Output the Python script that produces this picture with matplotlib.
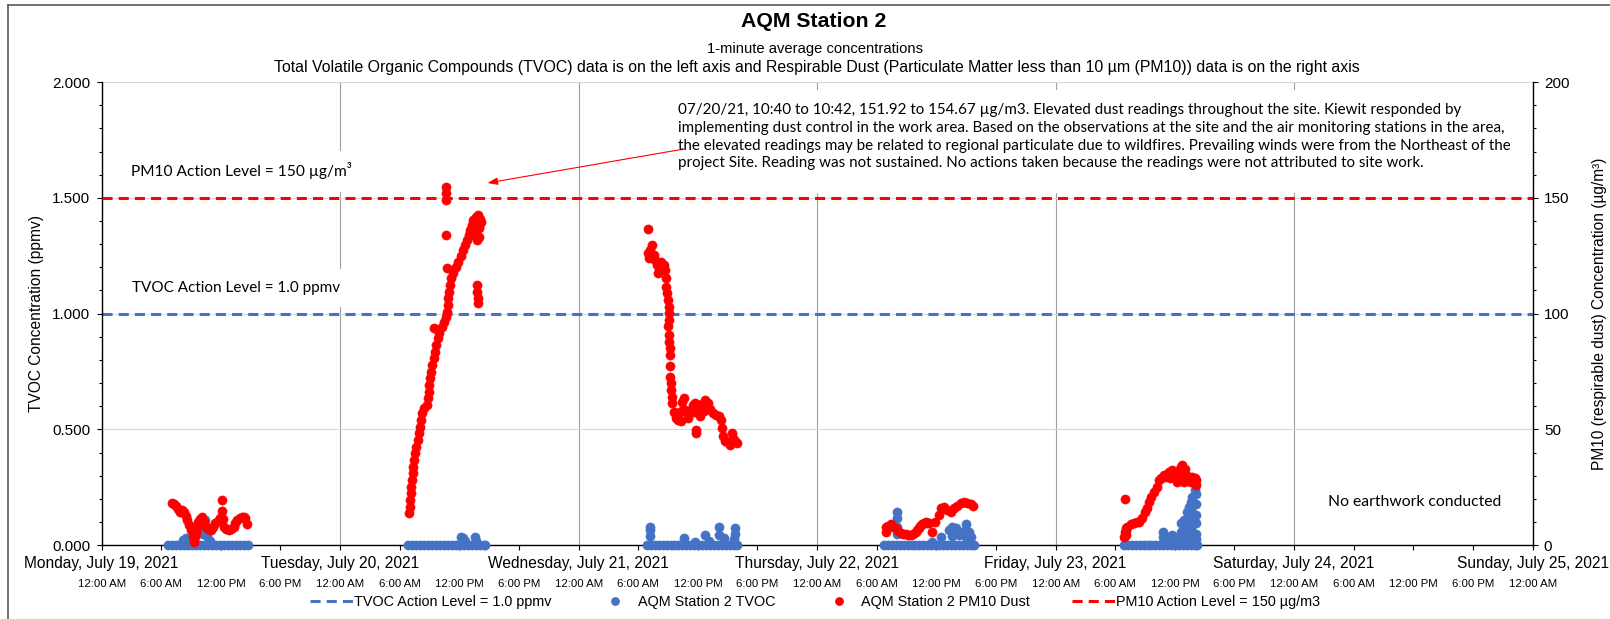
import numpy as np
import matplotlib
matplotlib.use("Agg")
import matplotlib.pyplot as plt
from matplotlib.lines import Line2D
from matplotlib.patches import Rectangle, FancyArrowPatch
from matplotlib.ticker import MultipleLocator, FormatStrFormatter
import matplotlib.transforms as mtransforms

# ---------------- data (hours since Monday 19 July 2021 00:00) ----------------
day_labels = ["Monday, July 19, 2021", "Tuesday, July 20, 2021", "Wednesday, July 21, 2021",
              "Thursday, July 22, 2021", "Friday, July 23, 2021", "Saturday, July 24, 2021",
              "Sunday, July 25, 2021"]
time_labels = ["12:00 AM", "6:00 AM", "12:00 PM", "6:00 PM"]

TVOC_ACTION = 1.0     # ppmv
PM10_ACTION = 150.0   # ug/m3

# PM10 dust (right axis)
pm_mon_h = [7.05, 7.30, 7.49, 7.70, 7.89, 8.10, 8.30, 8.45, 8.63, 8.80, 8.97, 9.15, 9.30, 9.42, 9.51,
            9.62, 9.74, 9.90, 10.08, 10.30, 10.52, 10.75, 10.99, 11.20, 11.43, 11.70, 11.93, 12.11,
            12.11, 12.20, 12.34, 12.55, 12.78, 13.00, 13.28, 13.45, 13.62, 13.90, 14.13, 14.30, 14.46, 14.63]
pm_mon_v = [18.4, 18.0, 16.9, 15.5, 14.5, 15.0, 14.5, 12.5, 10.9, 8.8, 6.6, 4.0, 1.5, 3.5, 5.1,
            7.5, 10.1, 11.5, 12.3, 10.0, 8.0, 7.0, 6.6, 8.0, 9.5, 10.5, 11.6, 19.5,
            14.8, 11.5, 8.0, 7.0, 6.6, 7.2, 8.0, 9.5, 10.9, 11.8, 12.3, 12.0, 11.6, 9.2]

pm_tue_h = [30.98, 31.01, 31.05, 31.12, 31.18, 31.25, 31.32, 31.38, 31.45, 31.55, 31.65, 31.79, 31.92,
            32.05, 32.16, 32.26, 32.46, 32.73, 32.86, 32.93, 32.99, 33.06, 33.13, 33.26, 33.40, 33.53,
            33.67, 33.83, 34.00, 34.24, 34.47, 34.67, 34.77, 34.81, 34.87, 34.97, 35.07, 35.21, 35.41,
            35.68, 35.91, 36.12, 36.32, 36.55, 36.75, 36.95, 37.12, 37.26, 37.42, 37.63, 37.89, 38.16,
            37.96, 37.96, 37.76, 37.49, 37.70, 38.00, 38.10, 37.85,
            33.46, 34.667, 34.683, 34.70, 34.67, 34.74, 37.76, 37.76, 37.83, 37.83]
pm_tue_v = [13.8, 16.6, 19.5, 22.4, 25.3, 28.2, 31.0, 33.9, 36.8, 39.7, 42.6, 45.4, 48.3,
            51.2, 54.1, 57.0, 59.1, 60.6, 63.4, 66.3, 69.2, 72.1, 74.9, 77.8, 80.7, 83.6,
            86.5, 89.3, 91.8, 94.4, 96.5, 98.7, 100.9, 103.7, 106.6, 109.5, 112.4, 115.3, 117.7,
            120.0, 122.5, 124.9, 127.5, 129.7, 131.8, 134.0, 136.1, 138.3, 140.5, 141.9, 140.7, 139.7,
            136.9, 133.0, 131.8, 134.0, 138.5, 138.0, 141.0, 142.5,
            93.7, 154.67, 151.92, 149.1, 134.0, 119.6, 112.4, 109.5, 106.6, 104.5]

pm_wed_h = [54.98, 55.38, 55.21, 54.95, 55.05, 55.28, 55.55, 55.72, 55.89, 55.96, 56.13, 56.33, 56.57,
            56.73, 56.83, 56.83, 56.90, 56.97, 57.07, 57.14, 57.07, 57.00, 57.07, 57.14, 57.17, 57.17,
            57.24, 57.24, 57.27, 57.34, 57.37, 57.44, 57.57, 57.77, 58.01, 58.24, 58.41, 58.58, 58.74,
            58.98, 59.25, 59.52, 59.75, 59.85, 59.85, 60.09, 60.42, 60.76, 60.99, 61.26, 61.53, 61.80,
            62.10, 62.37, 62.44, 62.51, 62.71, 63.01, 63.28, 63.48, 63.55, 63.78, 63.95,
            57.70, 58.10, 58.30, 58.50, 58.90, 59.10, 59.60, 60.20, 60.60, 61.00]
pm_wed_v = [136.4, 129.7, 127.5, 126.1, 123.9, 124.6, 125.3, 123.2, 121.0, 117.4, 120.3, 122.5, 121.0,
            118.9, 115.3, 111.7, 108.8, 105.9, 103.0, 100.1, 97.3, 94.7, 90.8, 87.9, 85.0, 82.1,
            77.5, 72.8, 69.9, 67.0, 64.2, 61.3, 57.7, 54.8, 54.1, 57.7, 62.0, 63.4, 58.4,
            54.8, 57.7, 60.6, 61.6, 48.3, 49.8, 59.1, 61.0, 62.7, 61.6, 58.7, 57.2, 56.2,
            55.8, 54.1, 50.5, 47.2, 45.1, 44.7, 43.3, 48.3, 46.2, 45.0, 44.3,
            57.0, 57.0, 53.5, 58.5, 57.5, 58.0, 57.5, 55.8, 58.0, 59.0]

pm_thu_h = [78.89, 78.89, 79.39, 79.89, 80.40, 80.90, 81.40, 81.91, 82.24, 82.58, 82.91, 83.25, 83.58,
            83.91, 84.25, 84.42, 84.76, 85.09, 85.43, 85.76, 86.10, 86.44, 86.77, 87.11, 87.44, 87.71,
            79.10, 79.60, 80.15, 80.65, 81.15, 81.65, 82.07, 82.40, 82.75, 83.08]
pm_thu_v = [8.0, 5.8, 9.2, 7.3, 5.4, 4.8, 4.4, 5.8, 7.3, 9.2, 10.2, 9.4, 5.8,
            10.2, 13.0, 15.9, 16.4, 15.2, 14.5, 15.9, 16.9, 18.1, 18.8, 18.4, 17.8, 16.9,
            8.5, 8.0, 6.2, 5.0, 4.5, 5.0, 6.5, 8.2, 9.8, 9.8]

pm_fri_h = [102.95, 102.88, 103.05, 103.05, 103.21, 103.55, 103.89, 104.22, 104.39, 104.73, 104.96,
            105.16, 105.40, 105.63, 105.90, 106.24, 106.40, 106.64, 106.91, 107.24, 107.41, 107.75,
            108.08, 108.25, 108.42, 108.59, 108.75, 108.92, 109.01, 109.26, 109.43, 109.59, 109.76,
            109.99, 110.09, 110.09, 103.00, 103.10, 107.00, 107.50, 108.00, 108.50, 109.10, 109.80, 110.00]
pm_fri_v = [20.0, 3.7, 4.4, 7.3, 8.0, 9.2, 9.7, 10.2, 10.2, 11.6, 14.5,
            15.9, 18.8, 21.0, 23.1, 25.3, 28.2, 28.9, 30.3, 30.3, 31.8, 32.5,
            31.0, 27.4, 32.5, 33.6, 34.6, 27.4, 32.8, 28.2, 29.6, 27.4, 29.6,
            28.9, 28.2, 26.0, 5.5, 6.0, 29.5, 29.0, 29.5, 30.5, 30.5, 27.5, 27.0]

# TVOC (left axis): readings at 0.000 ppmv
tvoc_zero_h = [6.7, 7.1, 7.5, 7.9, 8.3, 8.7, 9.1, 9.5, 9.9, 10.3, 10.7, 11.1, 11.5, 11.9, 12.3, 12.7,
               13.1, 13.5, 13.9, 14.3, 14.7,
               30.85, 31.25, 31.65, 32.05, 32.45, 32.85, 33.25, 33.65, 34.05, 34.45, 34.85, 35.25,
               35.65, 36.05, 36.45, 36.85, 37.25, 37.65, 38.05, 38.45, 38.6,
               54.85, 55.25, 55.65, 56.05, 56.45, 56.85, 57.25, 57.65, 58.05, 58.45, 58.85, 59.25,
               59.65, 60.05, 60.45, 60.85, 61.25, 61.65, 62.05, 62.45, 62.85, 63.25, 63.65, 63.95,
               78.7, 79.1, 79.5, 79.9, 80.3, 80.7, 81.1, 81.5, 81.9, 82.3, 82.7, 83.1, 83.5, 83.9,
               84.3, 84.7, 85.1, 85.5, 85.9, 86.3, 86.7, 87.1, 87.5, 87.8,
               102.85, 103.25, 103.65, 104.05, 104.45, 104.85, 105.25, 105.65, 106.05, 106.45,
               106.85, 107.25, 107.65, 108.05, 108.45, 108.85, 109.25, 109.65, 110.05, 110.25]
# TVOC non-zero readings
tvoc_h = [8.2, 8.5, 8.8, 10.2, 10.4, 10.4, 10.6, 10.9,
          36.2, 36.4, 36.6, 37.6, 37.7,
          55.15, 55.15, 55.15, 58.57, 59.75, 60.76, 61.09, 62.10, 62.10, 62.6, 63.78, 63.78, 63.6,
          80.0, 80.0, 80.0, 80.0, 83.58, 84.42, 85.26, 85.6, 85.6, 85.93, 86.27, 86.6, 86.94, 86.94,
          86.94, 87.27, 87.5,
          106.84, 106.84, 107.41, 107.75, 108.08, 108.59, 108.59, 108.59, 108.92, 108.92, 109.26,
          109.26, 109.26, 109.26, 109.43, 109.59, 109.59, 109.59, 109.59, 109.59, 109.76, 109.76,
          109.99, 110.09, 110.09, 110.09, 110.09, 110.09, 110.09]
tvoc_v = [0.022, 0.03, 0.02, 0.05, 0.109, 0.07, 0.04, 0.02,
          0.037, 0.03, 0.02, 0.037, 0.02,
          0.08, 0.065, 0.04, 0.03, 0.015, 0.044, 0.02, 0.08, 0.044, 0.03, 0.073, 0.05, 0.025,
          0.145, 0.116, 0.08, 0.05, 0.015, 0.037, 0.066, 0.08, 0.04, 0.073, 0.044, 0.058, 0.092, 0.065,
          0.035, 0.058, 0.037,
          0.058, 0.037, 0.037, 0.044, 0.03, 0.094, 0.058, 0.03, 0.109, 0.065, 0.145,
          0.11, 0.07, 0.035, 0.166, 0.188, 0.15, 0.11, 0.07, 0.035, 0.21, 0.17,
          0.238, 0.22, 0.18, 0.13, 0.094, 0.05, 0.025]

# ---------------- styling ----------------
BLUE = "#4472C4"
RED = "#FF0000"
W, H, DPI = 1610, 619, 100
plt.rcParams["font.family"] = ["Liberation Sans", "DejaVu Sans"]

fig = plt.figure(figsize=(W / DPI, H / DPI), dpi=DPI)
fig.patch.set_facecolor("white")


def fx(px):
    return px / W


def fy(py):
    return 1 - py / H


L, R, T, B = 101.6, 1532.6, 82.1, 545.2
ax = fig.add_axes([fx(L), fy(B), (R - L) / W, (B - T) / H])
ax2 = ax.twinx()

MS = 6.6
ax.plot(tvoc_zero_h, [0.0] * len(tvoc_zero_h), "o", color=BLUE, ms=MS, mew=0.4, mec=BLUE,
        clip_on=False, zorder=3)
ax.plot(tvoc_h, tvoc_v, "o", color=BLUE, ms=MS, mew=0.4, mec=BLUE, clip_on=False, zorder=3)
ax.axhline(TVOC_ACTION, color=BLUE, lw=2.2, dashes=(3.3, 2.0), zorder=2)

for hh, vv in [(pm_mon_h, pm_mon_v), (pm_tue_h, pm_tue_v), (pm_wed_h, pm_wed_v),
               (pm_thu_h, pm_thu_v), (pm_fri_h, pm_fri_v)]:
    ax2.plot(hh, vv, "o", color=RED, ms=MS, mew=0.4, mec=RED, clip_on=False, zorder=3)
ax2.axhline(PM10_ACTION, color=RED, lw=2.2, dashes=(3.3, 2.0), zorder=2.2)

ax.set_xlim(0, 24 * (len(day_labels) - 1))
ax.set_ylim(0, 2)
ax2.set_ylim(0, 200)

ax.set_xticks(np.arange(0, 24 * len(day_labels), 24))
ax.xaxis.set_minor_locator(MultipleLocator(6))
ax.tick_params(axis="x", which="both", direction="out", length=3.6, width=0.8,
               labelbottom=False, color="black")
ax.set_yticks([0, 0.5, 1.0, 1.5, 2.0])
ax.yaxis.set_minor_locator(MultipleLocator(0.1))
ax.yaxis.set_major_formatter(FormatStrFormatter("%.3f"))
ax.tick_params(axis="y", which="major", direction="out", length=3.6, width=0.8, labelsize=11, pad=4.5)
ax.tick_params(axis="y", which="minor", direction="out", length=2.5, width=0.8)

ax2.set_yticks([0, 50, 100, 150, 200])
ax2.yaxis.set_minor_locator(MultipleLocator(10))
ax2.tick_params(axis="y", which="major", direction="out", length=3.6, width=0.8, labelsize=11, pad=4.5)
ax2.tick_params(axis="y", which="minor", direction="out", length=2.5, width=0.8)

ax.xaxis.grid(True, which="major", color="#A0A0A0", lw=0.8)
ax.yaxis.grid(True, which="major", color="#D9D9D9", lw=0.8)
ax.set_axisbelow(True)

for s in ["top", "right"]:
    ax.spines[s].set_visible(False)
for s in ["top", "left", "bottom"]:
    ax2.spines[s].set_visible(False)
for sp in [ax.spines["left"], ax.spines["bottom"], ax2.spines["right"]]:
    sp.set_color("black")
    sp.set_linewidth(1.0)

# x-axis two-row labels
btrans = mtransforms.blended_transform_factory(ax.transData, fig.transFigure)
for i, lbl in enumerate(day_labels):
    ax.text(i * 24, fy(563.7), lbl, transform=btrans, ha="center", va="center", fontsize=11.2,
            clip_on=False)
n_slots = 4 * (len(day_labels) - 1) + 1
for k in range(n_slots):
    ax.text(k * 6, fy(584), time_labels[k % 4], transform=btrans, ha="center", va="center",
            fontsize=8.2, clip_on=False)

# titles and axis labels
fig.text(fx(814), fy(21.6), "AQM Station 2", ha="center", va="center", fontsize=15.3, fontweight="bold")
fig.text(fx(815), fy(49.3), "1-minute average concentrations", ha="center", va="center", fontsize=10.6)
fig.text(fx(817), fy(67.8),
         "Total Volatile Organic Compounds (TVOC) data is on the left axis and Respirable Dust "
         "(Particulate Matter less than 10 \u00b5m (PM10)) data is on the right axis",
         ha="center", va="center", fontsize=11.45)
fig.text(fx(36), fy(313.6), "TVOC Concentration (ppmv)", rotation=90, ha="center", va="center",
         fontsize=11.2)
fig.text(fx(1599), fy(313.6), "PM10 (respirable dust) Concentration (\u00b5g/m\u00b3)", rotation=90,
         ha="center", va="center", fontsize=11.2)

# white text boxes (cover gridlines)
for (x0, y0, x1, y1) in [(118, 151, 358, 192), (118, 269, 350, 307), (668, 90, 1527, 193)]:
    ax2.add_patch(Rectangle((fx(x0), fy(y1)), fx(x1) - fx(x0), fy(y0) - fy(y1), transform=fig.transFigure,
                            facecolor="white", edgecolor="none", zorder=1, clip_on=False))

renderer = fig.canvas.get_renderer()


def fit(t, target):
    w = t.get_window_extent(renderer=renderer).width
    t.set_fontsize(t.get_fontsize() * target / w)
    return t


CAL = ["Lato", "DejaVu Sans"]
t_pm = fig.text(fx(130.7), fy(169.3), "PM10 Action Level = 150 \u00b5g/m\u00b3", family=CAL, fontsize=11,
                ha="left", va="center_baseline")
fit(t_pm, 221)
t_tv = fig.text(fx(132.3), fy(286.7), "TVOC Action Level = 1.0 ppmv", family=CAL, fontsize=11,
                ha="left", va="center_baseline")
fit(t_tv, 207.7)
t_ne = fig.text(fx(1415), fy(500), "No earthwork conducted", family=CAL, fontsize=11,
                ha="center", va="center_baseline")
fit(t_ne, 173.4)

note_lines = [
    "07/20/21, 10:40 to 10:42, 151.92 to 154.67 \u00b5g/m3. Elevated dust readings throughout the site. Kiewit responded by",
    "implementing dust control in the work area. Based on the observations at the site and the air monitoring stations in the area,",
    "the elevated readings may be related to regional particulate due to wildfires. Prevailing winds were from the Northeast of the",
    "project Site. Reading was not sustained. No actions taken because the readings were not attributed to site work.",
]
line_y = [108.3, 126.2, 144.1, 162.0]
t1 = fig.text(fx(678), fy(line_y[1]), note_lines[1], family=CAL, fontsize=11, ha="left", va="center_baseline")
fit(t1, 826)
fs_note = t1.get_fontsize()
for idx in (0, 2, 3):
    fig.text(fx(678), fy(line_y[idx]), note_lines[idx], family=CAL, fontsize=fs_note, ha="left",
             va="center_baseline")

arrow = FancyArrowPatch((fx(684), fy(149)), (fx(487.5), fy(183)), transform=fig.transFigure,
                        arrowstyle="-|>,head_length=0.55,head_width=0.2", mutation_scale=11,
                        color=RED, lw=0.8, shrinkA=0, shrinkB=0)
fig.add_artist(arrow)

# legend
handles = [
    Line2D([], [], color=BLUE, lw=2.2, dashes=(3.3, 2.0)),
    Line2D([], [], ls="none", marker="o", color=BLUE, ms=6.3, mew=0),
    Line2D([], [], ls="none", marker="o", color=RED, ms=6.3, mew=0),
    Line2D([], [], color=RED, lw=2.2, dashes=(3.3, 2.0)),
]
labels = ["TVOC Action Level = 1.0 ppmv", "AQM Station 2 TVOC", "AQM Station 2 PM10 Dust",
          "PM10 Action Level = 150 \u00b5g/m3"]
fig.legend(handles, labels, loc="center", bbox_to_anchor=(fx(815), fy(601.7)), ncol=4, frameon=False,
           fontsize=10.4, handlelength=3.0, handletextpad=0.05, columnspacing=2.9, numpoints=1,
           borderaxespad=0, borderpad=0)

# chart-area border
fig.add_artist(Line2D([fx(7.5), fx(7.5)], [fy(4.5), 0], transform=fig.transFigure, color="#595959", lw=1.2))
fig.add_artist(Line2D([fx(7.5), 1], [fy(4.5), fy(4.5)], transform=fig.transFigure, color="#595959", lw=1.2))

fig.savefig("out.png", dpi=DPI, facecolor="white")
